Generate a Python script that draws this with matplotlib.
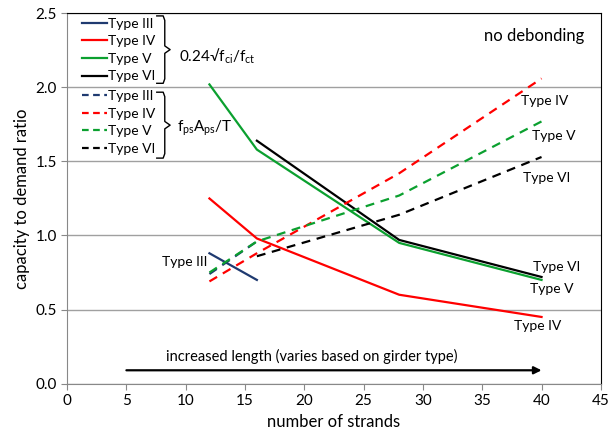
import matplotlib
matplotlib.use("Agg")
import matplotlib.pyplot as plt
from matplotlib.lines import Line2D

plt.rcParams['font.family'] = ['Lato', 'DejaVu Sans']
plt.rcParams['mathtext.fontset'] = 'custom'
plt.rcParams['mathtext.rm'] = 'Lato'
plt.rcParams['mathtext.it'] = 'Lato'

TYPES = ["Type III", "Type IV", "Type V", "Type VI"]
COLORS = ["#1F3A70", "#FF0000", "#0BA02F", "#000000"]

# 0.24 sqrt(fci) / fct
stress_x = [[12, 16], [12, 16, 28, 40], [12, 16, 28, 40], [16, 28, 40]]
stress_y = [[0.88, 0.70], [1.25, 0.98, 0.60, 0.45],
            [2.02, 1.58, 0.95, 0.70], [1.64, 0.97, 0.72]]

# fps Aps / T
force_x = [[12, 16], [12, 16, 28, 40], [12, 16, 28, 40], [16, 28, 40]]
force_y = [[0.74, 0.96], [0.69, 0.88, 1.42, 2.06],
           [0.75, 0.96, 1.27, 1.77], [0.86, 1.14, 1.53]]

# labels at line ends
end_labels = ["Type IV", "Type V", "Type VI", "Type VI", "Type V", "Type IV", "Type III"]
end_label_x = [40.3, 41.0, 40.4, 41.3, 40.9, 39.7, 9.9]
end_label_y = [1.91, 1.67, 1.39, 0.79, 0.64, 0.39, 0.82]

ARROW_START = 5
ARROW_END = 40
ARROW_Y = 0.09

fig = plt.figure(figsize=(6.1, 4.44), dpi=100)
ax = fig.add_axes([0.110, 0.136, 0.875, 0.834])

for xs, ys, c in zip(stress_x, stress_y, COLORS):
    ax.plot(xs, ys, color=c, lw=1.6)
for xs, ys, c in zip(force_x, force_y, COLORS):
    ax.plot(xs, ys, color=c, lw=1.6, ls=(0, (4, 3)))

for t, x, y in zip(end_labels, end_label_x, end_label_y):
    ax.text(x, y, t, fontsize=10, ha='center', va='center')

ax.text(39.4, 2.35, "no debonding", fontsize=12, ha='center', va='center')

ax.annotate('', xy=(ARROW_END, ARROW_Y), xytext=(ARROW_START, ARROW_Y),
            arrowprops=dict(arrowstyle='-|>', color='k', lw=1.6,
                            mutation_scale=11, shrinkA=0, shrinkB=0))
ax.text(20.6, 0.18, "increased length (varies based on girder type)",
        fontsize=10.5, ha='center', va='center')

ax.set_xlim(0, 45)
ax.set_ylim(0, 2.5)
ax.set_xticks(range(0, 46, 5))
ax.set_yticks([0, 0.5, 1.0, 1.5, 2.0, 2.5])
ax.set_yticklabels(["0.0", "0.5", "1.0", "1.5", "2.0", "2.5"])
ax.tick_params(axis='both', labelsize=11, color='#888888', length=4)
ax.grid(axis='y', color='#A0A0A0', lw=1)
ax.set_axisbelow(True)
ax.spines['left'].set_color('#888888')
ax.spines['bottom'].set_color('#888888')
ax.set_xlabel("number of strands", fontsize=12)
ax.set_ylabel("capacity to demand ratio", fontsize=12)

# legends
h1 = [Line2D([], [], color=c, lw=1.6) for c in COLORS]
h2 = [Line2D([], [], color=c, lw=1.6, ls=(0, (3, 2))) for c in COLORS]
leg_kw = dict(frameon=False, fontsize=10, handlelength=1.8, handletextpad=0.1,
              labelspacing=0.4, borderpad=0, borderaxespad=0, loc='upper left')
leg1 = ax.legend(h1, TYPES, bbox_to_anchor=(0.028, 0.988), **leg_kw)
ax.add_artist(leg1)
ax.legend(h2, TYPES, bbox_to_anchor=(0.028, 0.793), **leg_kw)


def bracket(top, bot, x0=0.168, x1=0.183, x2=0.193):
    mid = (top + bot) / 2
    e = 0.012
    xs = [x0, x1 - 0.003, x1, x1, x2, x1, x1, x1 - 0.003, x0]
    ys = [top, top, top - e, mid + 0.01, mid, mid - 0.01, bot + e, bot, bot]
    ax.plot(xs, ys, color='k', lw=1, transform=ax.transAxes, clip_on=False)


bracket(0.993, 0.811)
bracket(0.787, 0.609)
ax.text(0.21, 0.884, r"0.24√f$_\mathrm{ci}$/f$_\mathrm{ct}$", fontsize=11,
        transform=ax.transAxes, va='center')
ax.text(0.205, 0.69, r"f$_\mathrm{ps}$A$_\mathrm{ps}$/T", fontsize=11,
        transform=ax.transAxes, va='center')

fig.savefig("out.png", dpi=100)
